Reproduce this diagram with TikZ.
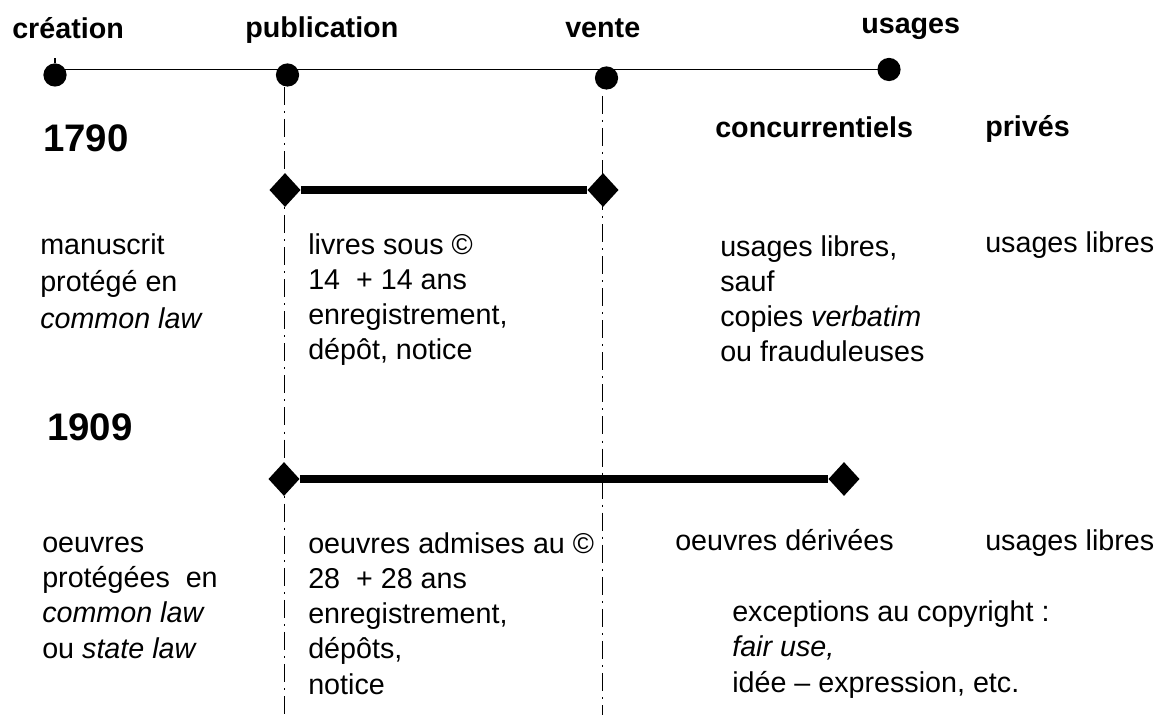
\documentclass[tikz,border=0pt]{standalone}
\usepackage{fontspec}
\setmainfont{Liberation Sans}
\usetikzlibrary{shapes.geometric}

\begin{document}
\fontsize{20.4pt}{24.9pt}\selectfont
\begin{tikzpicture}[
  x=0.025cm, y=-0.025cm,
  txt/.style={anchor=base west, inner sep=0pt, align=left, font=\fontsize{20.4pt}{24.9pt}\selectfont},
  hdr/.style={txt, font=\fontsize{20.4pt}{24.9pt}\selectfont\bfseries},
  year/.style={txt, font=\fontsize{27.3pt}{30pt}\selectfont\bfseries},
  dot/.style={circle, fill, inner sep=0pt, minimum size=0.58cm},
  diam/.style={diamond, fill, inner sep=0pt, minimum width=0.78cm, minimum height=0.85cm},
  bar/.style={line width=5.7pt},
  guide/.style={line width=0.7pt, dash pattern=on 12.8pt off 4.3pt on 1.4pt off 4.3pt},
  timeline/.style={line width=0.8pt}
]
\useasboundingbox (0,0) rectangle (1159,715);

% Stages
\node[hdr] (lcreation) at (12,39) {création};
\node[hdr] (lpublication) at (245,38) {publication};
\node[hdr] (lvente) at (565,38) {vente};
\node[hdr] (lusages) at (861,34) {usages};

\node[dot] (creation) at (55,75) {};
\node[dot] (publication) at (287.5,75) {};
\node[dot] (vente) at (606.5,78) {};
\node[dot] (usages) at (889,69.5) {};

\coordinate (pubfoot) at (284,715);
\coordinate (ventefoot) at (602,715);

% Timeline
\draw[timeline] (creation.center |- usages.center) -- (usages.center);
\draw[timeline] (creation.north) -- ++(0,-5);
\draw[guide] (pubfoot |- publication.south) -- (pubfoot);
\draw[guide] (ventefoot |- vente.south) ++(0,6) -- (ventefoot);

% 1790
\node[year] (y1790) at (43,152) {1790};
\node[hdr] (lconc) at (715,138) {concurrentiels};
\node[hdr] (lprives) at (985,137) {privés};

\node[diam] (a1790) at (285,190) {};
\node[diam] (b1790) at (603,190) {};
\draw[bar] (a1790) -- (b1790);

\node[txt] (manuscrit) at (40,329) {manuscrit\\[1.5pt]protégé en\\[1.5pt]\textit{common law}};
\node[txt] (livres) at (308,360) {livres sous ©\\14~ + 14 ans\\enregistrement,\\dépôt, notice};
\node[txt] (libres1790) at (720,362) {usages libres,\\sauf\\copies \textit{verbatim}\\ou frauduleuses};
\node[txt] (prives1790) at (985,253) {usages libres};

% 1909
\node[year] (y1909) at (47,440) {1909};

\node[diam] (a1909) at (284,479) {};
\node[diam] (b1909) at (844,479) {};
\draw[bar] (a1909) -- (b1909);

\node[txt] (oeuvres) at (42,658) {oeuvres\\protégées~ en\\\textit{common law}\\ou \textit{state law}};
\node[txt] (admises) at (308,694) {oeuvres admises au ©\\28~ + 28 ans\\enregistrement,\\dépôts,\\notice};
\node[txt] (derivees) at (675,550) {oeuvres dérivées};
\node[txt] (prives1909) at (985,550) {usages libres};
\node[txt] (exceptions) at (732,692) {exceptions au copyright :\\\textit{fair use,}\\idée – expression, etc.};

\end{tikzpicture}
\end{document}
